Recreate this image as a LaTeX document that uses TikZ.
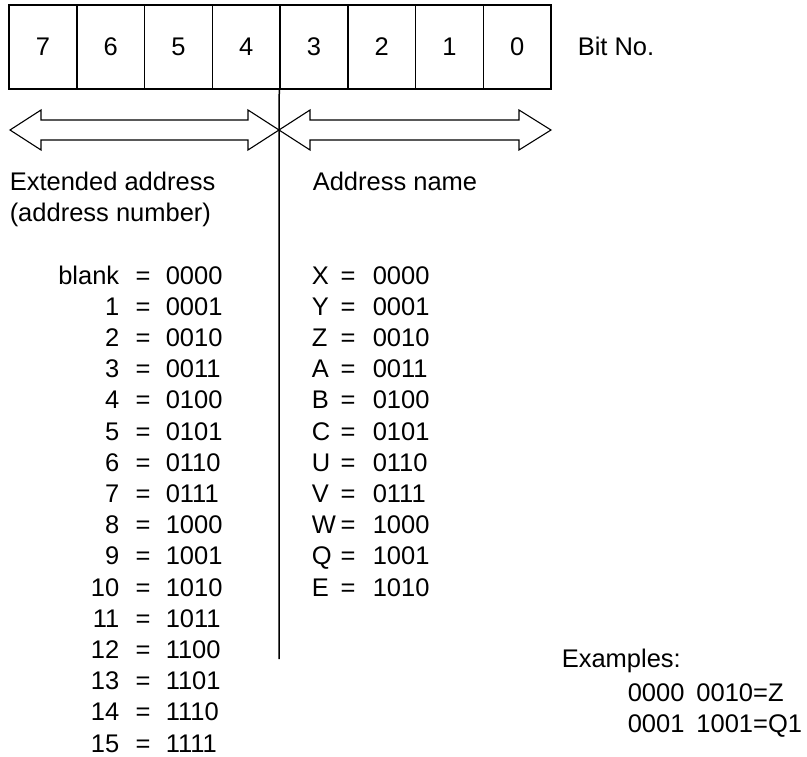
\documentclass[tikz,border=0pt]{standalone}
\usepackage{fontspec}
\setmainfont{Liberation Sans}
\begin{document}
\begin{tikzpicture}[x=1pt,y=-1pt,line width=1.5pt,
  every node/.style={inner sep=0pt,text height=18pt,text depth=0pt,font=\fontsize{25.5}{30}\selectfont},
  bitbox/.style={draw,minimum width=67.75pt,minimum height=84pt},
  arrowline/.style={line width=1.1pt,line join=miter}]
\useasboundingbox (0,0) rectangle (807,757);
% bit boxes
\foreach \k in {0,...,7} {
  \pgfmathtruncatemacro{\bit}{7-\k}
  \node[bitbox] (b\bit) at ({9+67.75*(\k+0.5)},47) {\bit};
}
\node[anchor=west] (bitno) at (577,47) {Bit No.};
% double arrows
\draw[arrowline] (10,130) -- (41,110) -- (41,120) -- (248,120) -- (248,110) -- (279,130)
  -- (248,150) -- (248,140) -- (41,140) -- (41,150) -- cycle;
\draw[arrowline] (279,130) -- (310,110) -- (310,120) -- (519,120) -- (519,110) -- (551,130)
  -- (519,150) -- (519,140) -- (310,140) -- (310,150) -- cycle;
% divider
\coordinate (divend) at (279,659);
\draw (b3.south west) -- (divend);
% headings
\node[anchor=west] (extaddr) at (9,182) {Extended address};
\node[anchor=west] (addrnum) at (9,213) {(address number)};
\node[anchor=west] (addrname) at (312,182) {Address name};
% extended address table
\foreach \n/\code [count=\i from 0] in {blank/0000,1/0001,2/0010,3/0011,4/0100,5/0101,
    6/0110,7/0111,8/1000,9/1001,10/1010,11/1011,12/1100,13/1101,14/1110,15/1111} {
  \node[anchor=east] (en\i) at (120,{275+31.2*\i}) {\n};
  \node (eq\i) at (143,{275+31.2*\i}) {=};
  \node[anchor=west] (ec\i) at (165,{275+31.2*\i}) {\code};
}
% address name table
\foreach \n/\code [count=\i from 0] in {X/0000,Y/0001,Z/0010,A/0011,B/0100,C/0101,
    U/0110,V/0111,W/1000,Q/1001,E/1010} {
  \node[anchor=west] (an\i) at (311,{275+31.2*\i}) {\n};
  \node (aq\i) at (348,{275+31.2*\i}) {=};
  \node[anchor=west] (ac\i) at (372,{275+31.2*\i}) {\code};
}
% examples
\node[anchor=west] (examples) at (561,658) {Examples:};
\node[anchor=west] (ex1) at (627,692) {0000\hspace{12pt}0010=Z};
\node[anchor=west] (ex2) at (627,723) {0001\hspace{12pt}1001=Q1};
\end{tikzpicture}
\end{document}
